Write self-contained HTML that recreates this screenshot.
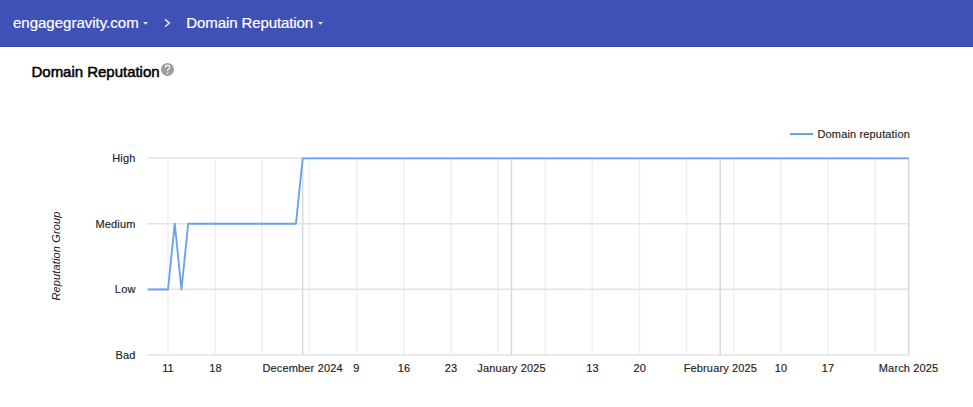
<!DOCTYPE html>
<html><head><meta charset="utf-8">
<style>
html,body{margin:0;padding:0;background:#fff;width:973px;height:407px;overflow:hidden;position:relative;font-family:"Liberation Sans",sans-serif;}
.hdr{position:absolute;left:0;top:0;width:973px;height:46px;background:#3f51b5;border-bottom:1px solid #3848ad;}
.ht{position:absolute;top:0;height:46px;line-height:46px;color:#fff;font-size:15px;white-space:nowrap;-webkit-text-stroke:0.2px #fff;}
.title{position:absolute;left:31.5px;top:63px;font-size:15px;letter-spacing:-0.02px;font-weight:normal;-webkit-text-stroke:0.5px #000;color:#000;white-space:nowrap;line-height:17px;}
svg{position:absolute;left:0;top:0;}
svg text{font-family:"Liberation Sans",sans-serif;font-size:11px;fill:#222;letter-spacing:0.15px;stroke:#222;stroke-width:0.15px;}
</style></head><body>
<div class="hdr"></div>
<div class="ht" style="left:13px;top:0">engagegravity.com</div>
<div class="ht" style="left:186.3px;top:0;letter-spacing:-0.1px">Domain Reputation</div>
<div class="title">Domain Reputation</div>
<svg width="973" height="407" viewBox="0 0 973 407">
  <!-- header icons -->
  <path d="M143 22 L148 22 L145.5 24.8 Z" fill="#fff" fill-opacity="0.85"/>
  <path d="M318 22 L323 22 L320.5 24.8 Z" fill="#fff" fill-opacity="0.85"/>
  <path d="M165.1 19.4 L169.3 23.1 L165.1 26.8" fill="none" stroke="#fff" stroke-opacity="0.85" stroke-width="1.5"/>
  <!-- help icon -->
  <circle cx="167.5" cy="69.4" r="6.5" fill="#9e9e9e"/>
  <path d="M165.3 67.6 Q165.3 65.4 167.5 65.4 Q169.7 65.4 169.7 67.4 Q169.7 68.6 168.4 69.3 Q167.6 69.8 167.6 71.2" fill="none" stroke="#fff" stroke-width="1.1"/>
  <circle cx="167.6" cy="73.2" r="0.7" fill="#fff"/>
  <!-- minor vertical gridlines -->
  <path d="M168.00 158V355M215.14 158V355M262.28 158V355M309.42 158V355M356.55 158V355M403.69 158V355M450.83 158V355M497.97 158V355M545.11 158V355M592.24 158V355M639.38 158V355M686.52 158V355M733.66 158V355M780.80 158V355M827.93 158V355M875.07 158V355" stroke="#f0f0f0" stroke-width="1.5" fill="none"/>
  <!-- horizontal gridlines -->
  <path d="M147 158H909M147 223.8H909M147 289.2H909M147 355H909" stroke="#e3e3e3" stroke-width="1.6" fill="none"/>
  <!-- major vertical gridlines -->
  <path d="M302.68 158V355M511.44 158V355M720.19 158V355M908.74 158V355" stroke="#dadada" stroke-width="1.5" fill="none"/>
  <!-- y labels -->
  <g text-anchor="end">
    <text x="135.5" y="162">High</text>
    <text x="135.5" y="228">Medium</text>
    <text x="135.5" y="293">Low</text>
    <text x="135.5" y="359">Bad</text>
  </g>
  <!-- x labels -->
  <g text-anchor="middle">
    <text x="168" y="372">11</text>
    <text x="215.5" y="372">18</text>
    <text x="302.6" y="372">December 2024</text>
    <text x="356.5" y="372">9</text>
    <text x="404" y="372">16</text>
    <text x="451" y="372">23</text>
    <text x="511.5" y="372">January 2025</text>
    <text x="592.5" y="372">13</text>
    <text x="639.7" y="372">20</text>
    <text x="720.4" y="372">February 2025</text>
    <text x="781" y="372">10</text>
    <text x="828" y="372">17</text>
    <text x="908.6" y="372">March 2025</text>
  </g>
  <!-- axis title -->
  <text transform="translate(59.6 256) rotate(-90)" text-anchor="middle" font-style="italic" letter-spacing="0.2" style="stroke-width:0.05px">Reputation Group</text>
  <!-- legend -->
  <path d="M790 134H813" stroke="#6aa0f0" stroke-width="2"/>
  <text x="817.5" y="138" letter-spacing="0.05">Domain reputation</text>
  <!-- data -->
  <polyline points="147.80,289.50 168.00,289.50 174.74,223.70 181.47,289.50 188.20,223.70 295.95,223.70 302.68,158.30 908.74,158.30" fill="none" stroke="#6aa0f0" stroke-width="1.85" stroke-linejoin="round"/>
</svg>
</body></html>
